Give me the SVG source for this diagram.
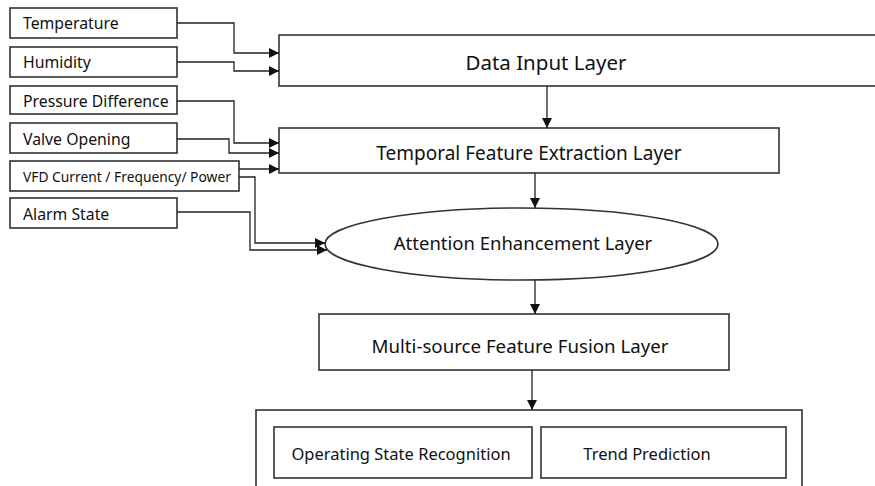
<svg xmlns="http://www.w3.org/2000/svg" width="875" height="486" viewBox="0 0 875 486">
<defs>
<marker id="arr" viewBox="0 0 10 10" refX="10" refY="5" markerWidth="10" markerHeight="10" markerUnits="userSpaceOnUse" orient="auto">
<path d="M0,0 L10,5 L0,10 z" fill="#111"/>
</marker>
<style>
.box{fill:#fff;stroke:#333;stroke-width:1.6}
.conn{fill:none;stroke:#222;stroke-width:1.3;marker-end:url(#arr)}
text{font-family:"Noto Sans","Open Sans",sans-serif;fill:#111;dominant-baseline:central}
.in{font-size:15.8px}
.big{font-size:19px;text-anchor:middle}
.mid{font-size:16.5px;text-anchor:middle}
</style>
</defs>
<rect width="875" height="486" fill="#fff"/>
<g id="temperature"><rect class="box" x="10" y="8" width="167" height="30"/><text class="in" x="23" y="23">Temperature</text></g>
<g id="humidity"><rect class="box" x="10" y="47" width="167" height="30"/><text class="in" x="23" y="62">Humidity</text></g>
<g id="pressure"><rect class="box" x="10" y="86" width="167" height="28"/><text class="in" x="23" y="100.5">Pressure Difference</text></g>
<g id="valve"><rect class="box" x="10" y="123" width="167" height="30"/><text class="in" x="23" y="138.5">Valve Opening</text></g>
<g id="vfd"><rect class="box" x="10" y="161" width="229" height="30"/><text class="in" x="23" y="176.5" style="font-size:13.8px">VFD Current / Frequency/ Power</text></g>
<g id="alarm"><rect class="box" x="10" y="198" width="167" height="30"/><text class="in" x="23" y="213.5">Alarm State</text></g>
<g id="data-input"><rect class="box" x="279" y="35" width="620" height="51"/><text class="big" x="546" y="62" style="font-size:20.5px">Data Input Layer</text></g>
<g id="temporal"><rect class="box" x="279" y="128" width="500" height="45"/><text class="big" x="529" y="153">Temporal Feature Extraction Layer</text></g>
<g id="attention"><ellipse class="box" cx="521.5" cy="244" rx="196.5" ry="36"/><text class="big" x="523" y="242" style="font-size:18.5px">Attention Enhancement Layer</text></g>
<g id="fusion"><rect class="box" x="319" y="314" width="410" height="56"/><text class="big" x="520" y="345" style="font-size:18.7px">Multi-source Feature Fusion Layer</text></g>
<g id="output"><rect class="box" x="256" y="410" width="546" height="100"/>
<g id="state-recognition"><rect class="box" x="274" y="427" width="258" height="51"/><text class="mid" x="401" y="453">Operating State Recognition</text></g>
<g id="trend-prediction"><rect class="box" x="541" y="427" width="245" height="51"/><text class="mid" x="647" y="453">Trend Prediction</text></g>
</g>
<g id="connectors">
<path class="conn" d="M177,23 H234 V53 H279"/>
<path class="conn" d="M177,62 H234 V71 H279"/>
<path class="conn" d="M177,101 H234 V143 H279"/>
<path class="conn" d="M177,139 H229 V153 H279"/>
<path class="conn" d="M239,169 H279"/>
<path class="conn" d="M239,177 H255 V243 H325"/>
<path class="conn" d="M177,212 H250 V250 H327"/>
<path class="conn" d="M547,86 V128"/>
<path class="conn" d="M535,173 V208"/>
<path class="conn" d="M535,280 V314"/>
<path class="conn" d="M532,370 V410"/>
</g>
</svg>
